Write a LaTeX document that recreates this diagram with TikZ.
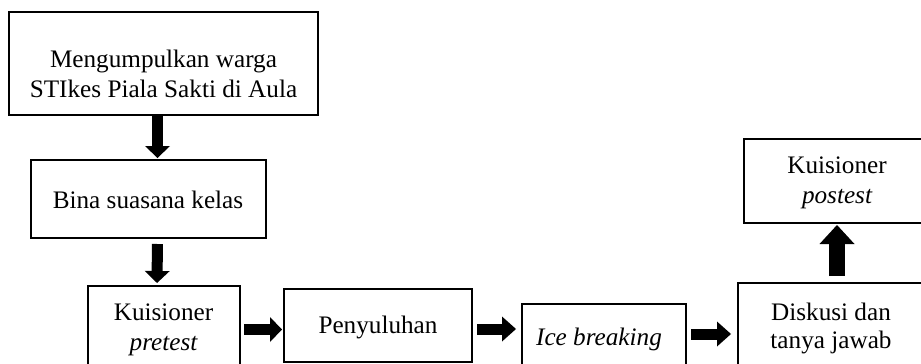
\documentclass[tikz,border=0pt]{standalone}
\usepackage{fontspec}
\setmainfont{Liberation Serif}
\usetikzlibrary{arrows.meta}
\tikzset{
  box/.style={draw, line width=1pt, rectangle, inner sep=0pt},
  txt/.style={inner sep=0pt, anchor=base, font=\fontsize{12.6}{15}\selectfont},
  blk/.style={line width=5.5pt, -{Triangle[length=6pt,width=12.5pt,line width=0pt]}},
  blkh/.style={line width=5.5pt, -{Triangle[length=7pt,width=12.5pt,line width=0pt]}},
  blkbig/.style={line width=8pt, -{Triangle[length=9.5pt,width=17.5pt,line width=0pt]}}
}
\begin{document}
\begin{tikzpicture}[x=0.5pt,y=-0.5pt]
\useasboundingbox (0,0) rectangle (921,364);
\clip (0,0) rectangle (921,364);
% boxes
\node[box, minimum width=154.5pt, minimum height=51.5pt] (b1) at (163.5,63.5) {};
\node[box, minimum width=117.5pt, minimum height=39pt] (b2) at (148.5,199) {};
\node[box, minimum width=76pt, minimum height=45pt] (b3) at (164,331) {};
\node[box, minimum width=94pt, minimum height=36.5pt] (b4) at (378,325.5) {};
\node[box, minimum width=82pt, minimum height=34pt] (b5) at (604,338) {};
\node[box, minimum width=93pt, minimum height=47pt] (b6) at (831,330) {};
\node[box, minimum width=93pt, minimum height=42pt] (b7) at (837,181) {};
% texts
\node[txt] (t1a) at (163.5,67) {Mengumpulkan warga};
\node[txt] (t1b) at (163.5,97) {STIkes Piala Sakti di Aula};
\node[txt] (t2) at (148,208) {Bina suasana kelas};
\node[txt] (t3a) at (163.5,320) {Kuisioner};
\node[txt] (t3b) at (163.5,350) {\itshape pretest};
\node[txt] (t4) at (378,333) {Penyuluhan};
\node[txt] (t5) at (599,345) {\itshape Ice breaking};
\node[txt] (t6a) at (831,320) {Diskusi dan};
\node[txt] (t6b) at (831,348) {tanya jawab};
\node[txt] (t7a) at (837,173) {Kuisioner};
\node[txt] (t7b) at (837,203) {\itshape postest};
% arrows
\draw[blk, shorten >=0.5pt] ([xshift=-3pt]b1.south) -- ([xshift=4.5pt]b2.north);
\draw[blk, shorten <=2.5pt, shorten >=1pt] ([xshift=4.5pt]b2.south) -- ([xshift=-3.5pt]b3.north);
\draw[blk, shorten <=1.5pt, shorten >=0.5pt] ([yshift=0.75pt]b3.east) -- ([yshift=-2pt]b4.west);
\draw[blkh, shorten <=2pt, shorten >=2.5pt] ([yshift=-1.75pt]b4.east) -- ([yshift=4.5pt]b5.west);
\draw[blkh, shorten <=2pt, shorten >=3pt] ([yshift=2pt]b5.east) -- ([yshift=-2pt]b6.west);
\draw[blkbig, shorten <=3pt, shorten >=0.5pt] ([xshift=3pt]b6.north) -- (b7.south);
\end{tikzpicture}
\end{document}
